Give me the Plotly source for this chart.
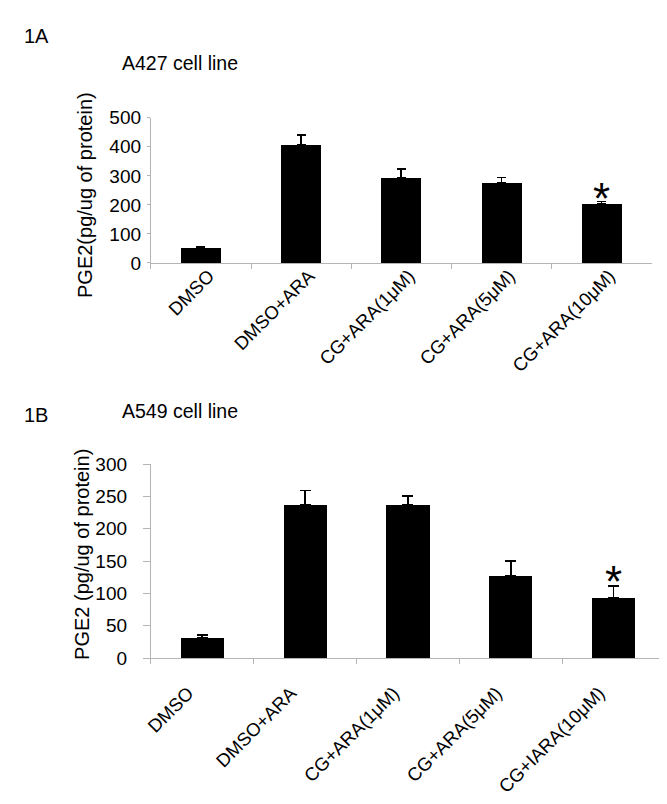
import plotly.graph_objects as go

# ---- data ----
cats_a = ["DMSO", "DMSO+ARA", "CG+ARA(1\u03bcM)", "CG+ARA(5\u03bcM)", "CG+ARA(10\u03bcM)"]
vals_a = [53, 408, 292, 277, 205]
errs_a = [3, 32, 32, 18, 6]

cats_b = ["DMSO", "DMSO+ARA", "CG+ARA(1\u03bcM)", "CG+ARA(5\u03bcM)", "CG+IARA(10\u03bcM)"]
vals_b = [31.5, 237, 237, 127.5, 92.5]
errs_b = [4, 22, 14, 23, 19]

ticks_a = [0, 100, 200, 300, 400, 500]
ticks_b = [0, 50, 100, 150, 200, 250, 300]

W, H = 667, 804
FONT = "Liberation Sans, Arial, sans-serif"
AXC = "#b4b4b4"

fig = go.Figure()
fig.add_trace(go.Bar(
    x=cats_a, y=vals_a, width=0.40, marker=dict(color="black", line=dict(width=0)),
    error_y=dict(type="data", array=errs_a, arrayminus=[0]*5, symmetric=False,
                 color="black", thickness=1.6, width=4.5),
    xaxis="x", yaxis="y", showlegend=False))
fig.add_trace(go.Bar(
    x=cats_b, y=vals_b, width=0.42, marker=dict(color="black", line=dict(width=0)),
    error_y=dict(type="data", array=errs_b, arrayminus=[0]*5, symmetric=False,
                 color="black", thickness=1.8, width=5.5),
    xaxis="x2", yaxis="y2", showlegend=False))

def xax(domain, anchor, shift, standoff):
    return dict(domain=domain, anchor=anchor, type="category", showline=True, linecolor=AXC,
                linewidth=1, ticks="outside", tickson="boundaries", ticklen=5, tickcolor=AXC,
                tickangle=-45, tickfont=dict(family=FONT, size=18.5, color="black"),
                ticklabelshift=shift, ticklabelstandoff=standoff,
                showgrid=False, zeroline=False, fixedrange=True)

def yax(domain, anchor, rng, tv, ticklen, standoff):
    return dict(domain=domain, anchor=anchor, range=rng, tickvals=tv, showline=True,
                linecolor=AXC, linewidth=1, ticks="outside", ticklen=ticklen, tickcolor=AXC,
                tickfont=dict(family=FONT, size=19, color="black"), showgrid=False,
                zeroline=False, ticklabelstandoff=standoff, fixedrange=True)

fig.update_layout(
    width=W, height=H, margin=dict(l=0, r=0, t=0, b=0),
    paper_bgcolor="white", plot_bgcolor="white", bargap=0,
    xaxis=xax([137.3/W, 643.5/W], "y", 8, -6),
    yaxis=yax([(H-251.5)/H, (H-102.5)/H], "x", [0, 500], ticks_a, 3, 2),
    xaxis2=xax([137.3/W, 656.7/W], "y2", -14, 16),
    yaxis2=yax([(H-657.3)/H, (H-458)/H], "x2", [0, 300], ticks_b, 7, 12),
)

ann = []
def txt(x, y, s, size, **kw):
    d = dict(x=x/W, y=1-y/H, xref="paper", yref="paper", text=s, showarrow=False,
             font=dict(family=FONT, size=size, color="black"), xanchor="left", yanchor="middle")
    d.update(kw)
    ann.append(d)

txt(7, 18, "1A", 20)
txt(106, 46.5, "A427 cell line", 19.5)
txt(7, 408, "1B", 20)
txt(106, 404, "A549 cell line", 19.5)
txt(71, 181.5, "PGE2(pg/ug of protein)", 20, textangle=-90, xanchor="center")
txt(67, 551, "PGE2 (pg/ug of protein)", 20, textangle=-90, xanchor="center")

# significance asterisks above the last bar of each panel
ann.append(dict(x=cats_a[4], y=vals_a[4] + errs_a[4], xref="x", yref="y", text="*",
                showarrow=False, font=dict(family=FONT, size=44, color="black"),
                yanchor="bottom", yshift=-23))
ann.append(dict(x=cats_b[4], y=vals_b[4] + errs_b[4], xref="x2", yref="y2", text="*",
                showarrow=False, font=dict(family=FONT, size=44, color="black"),
                yanchor="bottom", yshift=-22))
fig.update_layout(annotations=ann)

fig.write_html("out.html")
